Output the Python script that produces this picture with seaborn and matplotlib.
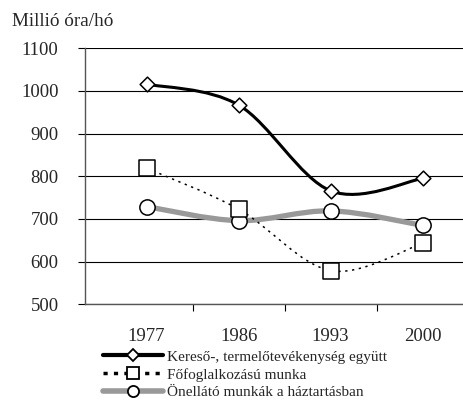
import matplotlib
matplotlib.use("Agg")
import matplotlib.pyplot as plt
import seaborn as sns
import pandas as pd
from matplotlib.path import Path
from matplotlib.patches import PathPatch
from matplotlib.lines import Line2D

# adatok
evek = ["1977", "1986", "1993", "2000"]
kereso = [1016, 967, 766, 795]
fofoglalkozasu = [819, 723, 579, 643]
onellato = [729, 696, 719, 685]
nevek = [
    "Kereső-, termelőtevékenység együtt",
    "Főfoglalkozású munka",
    "Önellátó munkák a háztartásban",
]

sns.set_style("white")
plt.rcParams["font.family"] = ["Liberation Serif", "DejaVu Serif"]

fig = plt.figure(figsize=(4.64, 4.07), dpi=100)
ax = fig.add_axes([85 / 464, 1 - 304.3 / 407, 1 - 85 / 464, (304.3 - 48.3) / 407])

df = pd.DataFrame({"ev": evek, "k": kereso, "f": fofoglalkozasu, "o": onellato})


def sima_vonal(ys):
    # Excel-szerű simított vonal (Bezier)
    pts = list(zip(range(len(ys)), ys))
    verts = [pts[0]]
    codes = [Path.MOVETO]
    n = len(pts)
    for i in range(n - 1):
        p0 = pts[i - 1] if i > 0 else pts[i]
        p1 = pts[i]
        p2 = pts[i + 1]
        p3 = pts[i + 2] if i + 2 < n else pts[i + 1]
        c1 = (p1[0] + (p2[0] - p0[0]) / 6, p1[1] + (p2[1] - p0[1]) / 6)
        c2 = (p2[0] - (p3[0] - p1[0]) / 6, p2[1] - (p3[1] - p1[1]) / 6)
        verts += [c1, c2, p2]
        codes += [Path.CURVE4] * 3
    return Path(verts, codes)


# vonalak
ax.add_patch(PathPatch(sima_vonal(onellato), fill=False, edgecolor="#999999",
                       lw=3.8, zorder=2, capstyle="butt"))
ax.add_patch(PathPatch(sima_vonal(fofoglalkozasu), fill=False, edgecolor="black",
                       lw=1.1, linestyle=(0, (1.5, 3)), zorder=2))
ax.add_patch(PathPatch(sima_vonal(kereso), fill=False, edgecolor="black",
                       lw=2.2, zorder=2))

# jelölők
sns.scatterplot(data=df, x="ev", y="o", marker="o", s=11 ** 2, color="white",
                edgecolor="black", linewidth=1.1, ax=ax, zorder=3)
sns.scatterplot(data=df, x="ev", y="f", marker="s", s=11 ** 2, color="white",
                edgecolor="black", linewidth=1.1, ax=ax, zorder=3)
sns.scatterplot(data=df, x="ev", y="k", marker="D", s=7.5 ** 2, color="white",
                edgecolor="black", linewidth=1.1, ax=ax, zorder=3)

ax.set_xlim(-0.67, 3.45)
ax.set_ylim(500, 1100)
ax.set_yticks(range(500, 1101, 100))
ax.yaxis.grid(True, color="black", lw=0.8)
ax.set_axisbelow(True)
ax.set_xlabel("")
ax.set_ylabel("")
ax.set_xticks(range(len(evek)))
ax.set_xticklabels(evek)
ax.set_xticks([0.5, 1.5, 2.5], minor=True)
ax.tick_params(axis="x", which="major", length=0, pad=17, labelsize=13.5)
ax.tick_params(axis="x", which="minor", length=5, width=0.8, direction="out",
               color="black", bottom=True)
ax.tick_params(axis="y", length=5, width=0.8, direction="out", color="black",
               left=True, labelsize=13.5, pad=14)

for s in ["top", "right"]:
    ax.spines[s].set_visible(False)
ax.spines["left"].set_color("#555555")
ax.spines["bottom"].set_color("#555555")
ax.spines["left"].set_linewidth(1)
ax.spines["bottom"].set_linewidth(1)

fig.text(12 / 464, 1 - 22 / 407, "Millió óra/hó", fontsize=13.8, va="center")

# jelmagyarázat
kezelok = [
    Line2D([], [], color="black", lw=3, marker="D", ms=6, mfc="white", mec="black", mew=1.3),
    Line2D([], [], color="black", lw=2.5, linestyle=(0, (1.2, 1.8)), marker="s", ms=8,
           mfc="white", mec="black", mew=1.3),
    Line2D([], [], color="#999999", lw=4, marker="o", ms=8, mfc="white", mec="black", mew=1.3),
]
fig.legend(kezelok, nevek, loc="upper left", bbox_to_anchor=(103 / 464, 1 - 350 / 407),
           frameon=False, fontsize=11, handlelength=3.9, handletextpad=0.3,
           labelspacing=0.27, borderpad=0, borderaxespad=0)

fig.savefig("out.png", dpi=100)
